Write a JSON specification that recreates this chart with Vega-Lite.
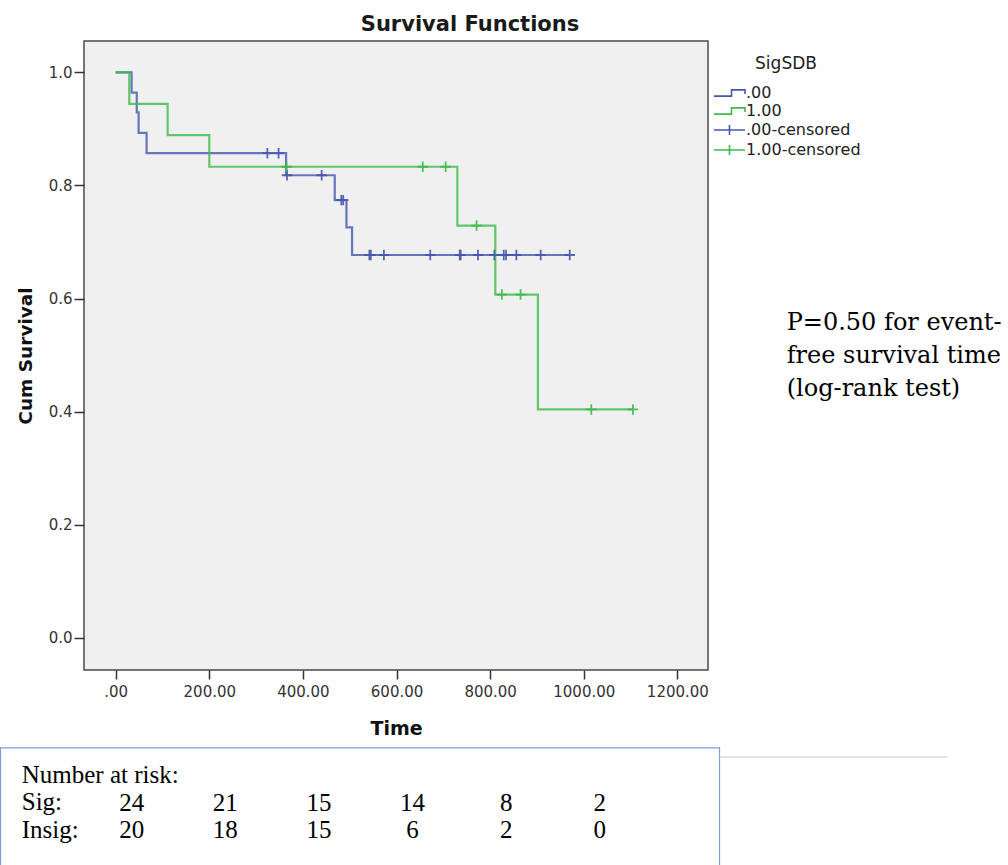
{
  "$schema": "https://vega.github.io/schema/vega-lite/v6.json",
  "width": 624,
  "height": 629,
  "autosize": {"type": "none"},
  "padding": {"left": 84, "top": 41, "right": 300, "bottom": 195},
  "background": "white",
  "title": {"text": "Survival Functions", "frame": "group", "anchor": "middle", "dx": 74, "baseline": "alphabetic", "offset": -11, "font": "DejaVu Sans", "fontSize": 21, "fontWeight": "bold", "color": "#1a1a1a"},
  "config": {
    "view": {"fill": "#f0f0f0", "stroke": "#4a4a4a", "strokeWidth": 1.5},
    "legend": {"symbolOpacity": 1}
  },
  "datasets": {
    "km": [
      {"g": ".00", "t": 0, "s": 1.0, "c": 0},
      {"g": ".00", "t": 34, "s": 0.964, "c": 0},
      {"g": ".00", "t": 45, "s": 0.929, "c": 0},
      {"g": ".00", "t": 49, "s": 0.893, "c": 0},
      {"g": ".00", "t": 66, "s": 0.857, "c": 0},
      {"g": ".00", "t": 324, "s": 0.857, "c": 1, "lab": ".00-censored"},
      {"g": ".00", "t": 348, "s": 0.857, "c": 1, "lab": ".00-censored"},
      {"g": ".00", "t": 364, "s": 0.818, "c": 0},
      {"g": ".00", "t": 366, "s": 0.818, "c": 1, "lab": ".00-censored"},
      {"g": ".00", "t": 440, "s": 0.818, "c": 1, "lab": ".00-censored"},
      {"g": ".00", "t": 468, "s": 0.774, "c": 0},
      {"g": ".00", "t": 482, "s": 0.774, "c": 1, "lab": ".00-censored"},
      {"g": ".00", "t": 486, "s": 0.774, "c": 1, "lab": ".00-censored"},
      {"g": ".00", "t": 493, "s": 0.726, "c": 0},
      {"g": ".00", "t": 505, "s": 0.677, "c": 0},
      {"g": ".00", "t": 542, "s": 0.677, "c": 1, "lab": ".00-censored"},
      {"g": ".00", "t": 545, "s": 0.677, "c": 1, "lab": ".00-censored"},
      {"g": ".00", "t": 573, "s": 0.677, "c": 1, "lab": ".00-censored"},
      {"g": ".00", "t": 672, "s": 0.677, "c": 1, "lab": ".00-censored"},
      {"g": ".00", "t": 735, "s": 0.677, "c": 1, "lab": ".00-censored"},
      {"g": ".00", "t": 737, "s": 0.677, "c": 1, "lab": ".00-censored"},
      {"g": ".00", "t": 774, "s": 0.677, "c": 1, "lab": ".00-censored"},
      {"g": ".00", "t": 809, "s": 0.677, "c": 1, "lab": ".00-censored"},
      {"g": ".00", "t": 829, "s": 0.677, "c": 1, "lab": ".00-censored"},
      {"g": ".00", "t": 834, "s": 0.677, "c": 1, "lab": ".00-censored"},
      {"g": ".00", "t": 856, "s": 0.677, "c": 1, "lab": ".00-censored"},
      {"g": ".00", "t": 908, "s": 0.677, "c": 1, "lab": ".00-censored"},
      {"g": ".00", "t": 970, "s": 0.677, "c": 1, "lab": ".00-censored"},
      {"g": "1.00", "t": 0, "s": 1.0, "c": 0},
      {"g": "1.00", "t": 29, "s": 0.944, "c": 0},
      {"g": "1.00", "t": 111, "s": 0.889, "c": 0},
      {"g": "1.00", "t": 200, "s": 0.833, "c": 0},
      {"g": "1.00", "t": 365, "s": 0.833, "c": 1, "lab": "1.00-censored"},
      {"g": "1.00", "t": 656, "s": 0.833, "c": 1, "lab": "1.00-censored"},
      {"g": "1.00", "t": 705, "s": 0.833, "c": 1, "lab": "1.00-censored"},
      {"g": "1.00", "t": 730, "s": 0.729, "c": 0},
      {"g": "1.00", "t": 771, "s": 0.729, "c": 1, "lab": "1.00-censored"},
      {"g": "1.00", "t": 811, "s": 0.607, "c": 0},
      {"g": "1.00", "t": 825, "s": 0.607, "c": 1, "lab": "1.00-censored"},
      {"g": "1.00", "t": 865, "s": 0.607, "c": 1, "lab": "1.00-censored"},
      {"g": "1.00", "t": 902, "s": 0.404, "c": 0},
      {"g": "1.00", "t": 1016, "s": 0.404, "c": 1, "lab": "1.00-censored"},
      {"g": "1.00", "t": 1105, "s": 0.404, "c": 1, "lab": "1.00-censored"}
    ],
    "risk": [
      {"grp": "Sig", "t": 0, "n": 24},
      {"grp": "Sig", "t": 200, "n": 21},
      {"grp": "Sig", "t": 400, "n": 15},
      {"grp": "Sig", "t": 600, "n": 14},
      {"grp": "Sig", "t": 800, "n": 8},
      {"grp": "Sig", "t": 1000, "n": 2},
      {"grp": "Insig", "t": 0, "n": 20},
      {"grp": "Insig", "t": 200, "n": 18},
      {"grp": "Insig", "t": 400, "n": 15},
      {"grp": "Insig", "t": 600, "n": 6},
      {"grp": "Insig", "t": 800, "n": 2},
      {"grp": "Insig", "t": 1000, "n": 0}
    ],
    "note": [{"txt": "P=0.50 for event-\nfree survival time\n(log-rank test)"}],
    "rowlabels": [{"txt": "Number at risk:\nSig:\nInsig:"}],
    "one": [{}]
  },
  "layer": [
    {
      "data": {"name": "km"},
      "mark": {"type": "line", "interpolate": "step-after", "strokeWidth": 2.2, "opacity": 0.8},
      "encoding": {
        "x": {"field": "t", "type": "quantitative",
          "scale": {"domain": [-67.7, 1265.4], "nice": false, "zero": false},
          "axis": {"values": [0, 200, 400, 600, 800, 1000, 1200], "labelExpr": "datum.value == 0 ? '.00' : format(datum.value, '.2f')", "title": "Time", "titleFont": "DejaVu Sans", "titleFontSize": 19, "titleFontWeight": "bold", "titleColor": "#111", "titlePadding": 20, "labelFont": "DejaVu Sans", "labelFontSize": 15, "labelColor": "#333", "labelPadding": 5, "tickSize": 9, "tickColor": "#333", "tickWidth": 1.5, "domain": false, "grid": false}},
        "y": {"field": "s", "type": "quantitative",
          "scale": {"domain": [-0.0566, 1.0553], "nice": false, "zero": false},
          "axis": {"values": [0, 0.2, 0.4, 0.6, 0.8, 1.0], "format": ".1f", "title": "Cum Survival", "titleFont": "DejaVu Sans", "titleFontSize": 18.5, "titleFontWeight": "bold", "titleColor": "#111", "titlePadding": 13, "labelFont": "DejaVu Sans", "labelFontSize": 15, "labelColor": "#333", "labelPadding": 2, "tickSize": 10, "tickColor": "#333", "tickWidth": 1.5, "domain": false, "grid": false}},
        "color": {"field": "g", "type": "nominal",
          "scale": {"domain": [".00", "1.00", ".00-censored", "1.00-censored"], "range": ["#4458b0", "#3dbb4a", "#4458b0", "#3dbb4a"]},
          "legend": {"title": "SigSDB", "orient": "none", "legendX": 627, "legendY": 15, "titleAnchor": "middle", "titleFont": "DejaVu Sans", "titleFontSize": 17, "titleFontWeight": "normal", "titleColor": "#222", "titlePadding": 12, "labelFont": "DejaVu Sans", "labelFontSize": 16, "labelColor": "#222", "labelOffset": 19, "symbolSize": 100, "rowPadding": 2, "symbolStrokeWidth": 1.6, "symbolOpacity": 1, "padding": 0}
        }
      }
    },
    {
      "data": {"name": "km"},
      "transform": [{"filter": "datum.c == 1"}],
      "mark": {"type": "point", "shape": "M-1,0H1M0,-1V1", "size": 110, "filled": false, "strokeWidth": 1.8, "opacity": 0.9},
      "encoding": {
        "x": {"field": "t", "type": "quantitative"},
        "y": {"field": "s", "type": "quantitative"},
        "color": {"field": "lab", "type": "nominal"}
      }
    },
    {
      "data": {"name": "km"},
      "transform": [{"filter": "datum.c == 1"}],
      "mark": {"type": "point", "size": 100, "filled": false, "strokeWidth": 1.6, "opacity": 0},
      "encoding": {
        "x": {"field": "t", "type": "quantitative"},
        "y": {"field": "s", "type": "quantitative"},
        "color": {"field": "lab", "type": "nominal"},
        "shape": {"field": "lab", "type": "nominal",
          "scale": {"domain": [".00", "1.00", ".00-censored", "1.00-censored"], "range": ["M-1,0.63H2.5V-0.63H5.2V0.2", "M-1,0.63H2.5V-0.63H5.2V0.2", "M-1,0H5.2M2.1,-1V1", "M-1,0H5.2M2.1,-1V1"]},
          "legend": {"title": "SigSDB", "orient": "none", "legendX": 627, "legendY": 15, "titleAnchor": "middle", "titleFont": "DejaVu Sans", "titleFontSize": 17, "titleFontWeight": "normal", "titleColor": "#222", "titlePadding": 12, "labelFont": "DejaVu Sans", "labelFontSize": 16, "labelColor": "#222", "labelOffset": 19, "symbolSize": 100, "rowPadding": 2, "symbolStrokeWidth": 1.6, "symbolOpacity": 1, "padding": 0}
        }
      }
    },
    {
      "data": {"name": "note"},
      "mark": {"type": "text", "align": "left", "baseline": "middle", "lineBreak": "\n", "lineHeight": 33, "font": "DejaVu Serif", "fontSize": 24, "color": "#000"},
      "encoding": {
        "x": {"datum": 1433.5, "type": "quantitative"},
        "y": {"datum": 0.5568, "type": "quantitative"},
        "text": {"field": "txt"}
      }
    },
    {
      "data": {"name": "one"},
      "mark": {"type": "rect", "fill": "transparent", "stroke": "#7c9fd6", "strokeWidth": 1.2},
      "encoding": {
        "x": {"datum": -246, "type": "quantitative"},
        "x2": {"datum": 1290},
        "y": {"datum": -0.1944, "type": "quantitative"},
        "y2": {"datum": -0.405}
      }
    },
    {
      "data": {"name": "one"},
      "mark": {"type": "rule", "color": "#c8c8c8", "strokeWidth": 1.2},
      "encoding": {
        "x": {"datum": 1290, "type": "quantitative"},
        "x2": {"datum": 1777},
        "y": {"datum": -0.2104, "type": "quantitative"}
      }
    },
    {
      "data": {"name": "rowlabels"},
      "mark": {"type": "text", "align": "left", "baseline": "middle", "lineBreak": "\n", "lineHeight": 27.5, "font": "Liberation Serif", "fontSize": 25, "color": "#000"},
      "encoding": {
        "x": {"datum": -200.7, "type": "quantitative"},
        "y": {"datum": -0.2422, "type": "quantitative"},
        "text": {"field": "txt"}
      }
    },
    {
      "data": {"name": "risk"},
      "transform": [{"filter": "datum.grp == 'Sig'"}],
      "mark": {"type": "text", "align": "center", "baseline": "middle", "dx": 16, "font": "Liberation Serif", "fontSize": 25, "color": "#000"},
      "encoding": {
        "x": {"field": "t", "type": "quantitative"},
        "y": {"datum": -0.2917, "type": "quantitative"},
        "text": {"field": "n"}
      }
    },
    {
      "data": {"name": "risk"},
      "transform": [{"filter": "datum.grp == 'Insig'"}],
      "mark": {"type": "text", "align": "center", "baseline": "middle", "dx": 16, "font": "Liberation Serif", "fontSize": 25, "color": "#000"},
      "encoding": {
        "x": {"field": "t", "type": "quantitative"},
        "y": {"datum": -0.3394, "type": "quantitative"},
        "text": {"field": "n"}
      }
    }
  ]
}
